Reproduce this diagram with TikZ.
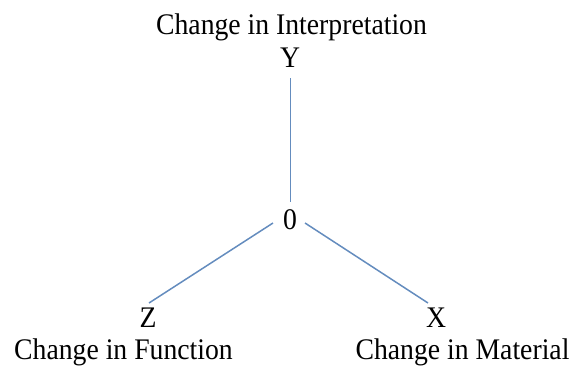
\documentclass[tikz,border=0pt]{standalone}
\usepackage{fontspec}
\setmainfont{Liberation Serif}
\definecolor{axisblue}{RGB}{100,140,190}
\newcommand{\tallt}[1]{\scalebox{1}[1.08]{#1}}
\begin{document}
\begin{tikzpicture}[x=1pt,y=-1pt,
  lbl/.style={font=\fontsize{27.7}{30}\selectfont, anchor=base, inner sep=0pt},
  axis/.style={draw=axisblue, line width=1.5pt}]
\useasboundingbox (0,0) rectangle (573,365);
% labels
\node[lbl] (tY) at (291.5,34) {\tallt{Change in Interpretation}};
\node[lbl] (Y) at (290,67) {\tallt{Y}};
\node[lbl] (O) at (290,229) {\tallt{0}};
\node[lbl] (Z) at (148,327) {\tallt{Z}};
\node[lbl] (X) at (436,327) {\tallt{X}};
\node[lbl] (tZ) at (123.5,359) {\tallt{Change in Function}};
\node[lbl] (tX) at (462.5,359) {\tallt{Change in Material}};
% connector end points
\coordinate (yend) at (290.5,78);
\coordinate (otop) at (290.5,202);
\coordinate (oleft) at (273,223);
\coordinate (oright) at (305,223);
\coordinate (zend) at (149,303);
\coordinate (xend) at (428,303);
% connectors
\draw[axis] (yend) -- (otop);
\draw[axis] (oleft) -- (zend);
\draw[axis] (oright) -- (xend);
\end{tikzpicture}
\end{document}
